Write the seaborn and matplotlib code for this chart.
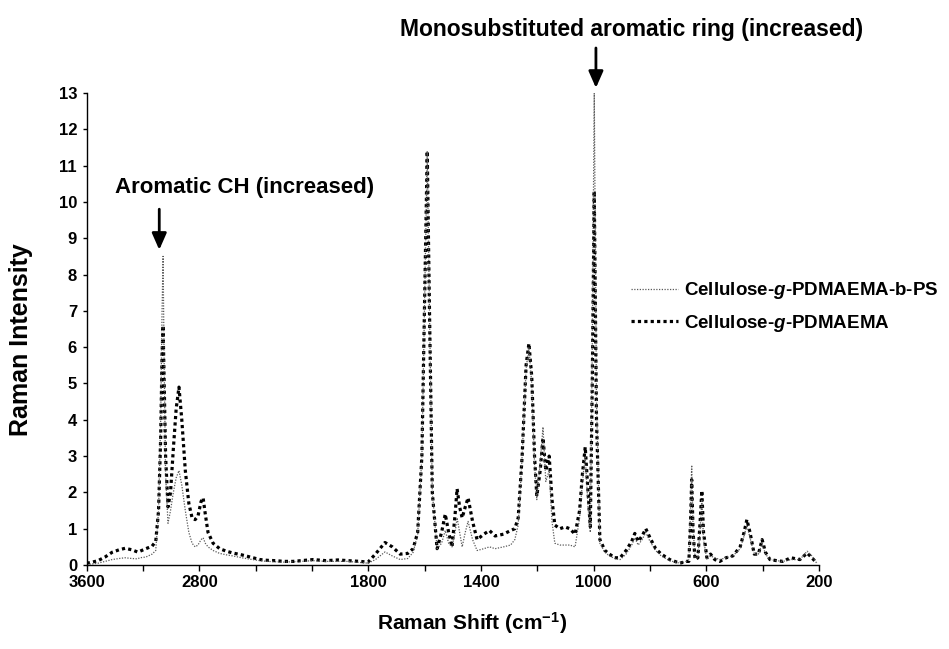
import numpy as np
import pandas as pd
import matplotlib
matplotlib.use("Agg")
import matplotlib.pyplot as plt
import seaborn as sns

# --- data (wavenumber in cm-1, intensity) ---
wavenumber = [3600, 3560, 3520, 3470, 3420, 3370, 3328, 3280, 3240, 3222,
              3180, 3136, 3110, 3090, 3075, 3065, 3058, 3050, 3040, 3023,
              3005, 2985, 2965, 2945, 2925, 2900, 2875, 2852, 2830, 2810,
              2790, 2778, 2765, 2749, 2719, 2680, 2640, 2601, 2550, 2500,
              2441, 2400, 2350, 2300, 2246, 2200, 2127, 2050, 1980, 1920,
              1849, 1802, 1775, 1741, 1715, 1687, 1660, 1641, 1625, 1610,
              1600, 1591, 1583, 1573, 1556, 1540, 1527, 1515, 1503, 1492,
              1485, 1476, 1467, 1456, 1446, 1430, 1414, 1390, 1370, 1350,
              1320, 1295, 1280, 1268, 1254, 1240, 1230, 1220, 1210, 1202,
              1190, 1180, 1170, 1158, 1148, 1138, 1120, 1102, 1085, 1066,
              1050, 1040, 1030, 1020, 1012, 1005, 998, 990, 978, 960,
              944, 925, 906, 885, 865, 854, 842, 828, 815, 800,
              780, 760, 730, 694, 672, 662, 656, 652, 647, 640,
              630, 622, 616, 610, 598, 585, 570, 552, 530, 506,
              480, 466, 456, 445, 430, 415, 402, 390, 374, 350,
              328, 300, 268, 242, 225, 208]

# Cellulose-g-PDMAEMA (thick dotted)
pdmaema = [0.05, 0.08, 0.12, 0.22, 0.35, 0.42, 0.46, 0.42, 0.36, 0.38,
           0.45, 0.52, 0.65, 1.5, 3.5, 5.8, 6.6, 5.0, 3.0, 1.6,
           2.0, 3.2, 4.3, 4.9, 4.0, 2.6, 1.7, 1.3, 1.25, 1.35,
           1.75, 1.85, 1.4, 0.9, 0.6, 0.45, 0.38, 0.33, 0.28, 0.22,
           0.15, 0.13, 0.12, 0.10, 0.10, 0.12, 0.15, 0.12, 0.14, 0.12,
           0.10, 0.08, 0.30, 0.62, 0.50, 0.30, 0.32, 0.45, 0.90, 3.0,
           7.5, 11.4, 7.0, 2.0, 0.45, 0.90, 1.40, 0.90, 0.50, 1.40,
           2.10, 1.60, 1.30, 1.60, 1.85, 1.20, 0.70, 0.85, 0.95, 0.80,
           0.85, 0.95, 1.00, 1.30, 3.0, 5.5, 6.1, 5.2, 3.0, 1.9,
           2.6, 3.5, 2.6, 3.0, 1.8, 1.1, 1.0, 1.05, 1.0, 0.85,
           1.5, 2.5, 3.25, 2.0, 1.05, 5.0, 10.3, 4.0, 0.7, 0.4,
           0.3, 0.2, 0.2, 0.4, 0.65, 0.87, 0.65, 0.8, 1.0, 0.75,
           0.45, 0.3, 0.15, 0.05, 0.1, 0.1, 1.2, 2.35, 0.9, 0.15,
           0.2, 1.2, 2.05, 0.9, 0.2, 0.3, 0.15, 0.1, 0.2, 0.25,
           0.5, 0.9, 1.25, 0.9, 0.3, 0.3, 0.7, 0.35, 0.15, 0.12,
           0.1, 0.2, 0.15, 0.33, 0.2, 0.05]

# Cellulose-g-PDMAEMA-b-PS (thin dotted)
pdmaema_ps = [0.02, 0.03, 0.05, 0.10, 0.15, 0.18, 0.20, 0.18, 0.17, 0.20,
              0.22, 0.30, 0.40, 1.5, 4.0, 7.0, 8.5, 5.5, 2.5, 1.15,
              1.5, 2.0, 2.4, 2.6, 2.2, 1.5, 0.9, 0.6, 0.5, 0.55,
              0.7, 0.75, 0.6, 0.5, 0.4, 0.32, 0.28, 0.25, 0.20, 0.16,
              0.12, 0.10, 0.09, 0.08, 0.09, 0.10, 0.12, 0.10, 0.10, 0.10,
              0.07, 0.05, 0.15, 0.36, 0.25, 0.15, 0.18, 0.35, 0.85, 3.0,
              7.5, 11.4, 7.0, 2.0, 0.45, 0.6, 0.95, 0.6, 0.5, 0.9,
              1.3, 0.9, 0.5, 0.9, 1.2, 0.7, 0.4, 0.45, 0.5, 0.45,
              0.5, 0.55, 0.7, 1.1, 3.0, 5.4, 6.0, 5.0, 2.8, 1.8,
              2.8, 3.8, 2.3, 2.6, 1.2, 0.6, 0.55, 0.55, 0.55, 0.5,
              1.3, 2.3, 3.0, 1.6, 0.9, 6.0, 13.0, 4.5, 0.6, 0.35,
              0.25, 0.18, 0.15, 0.3, 0.55, 0.75, 0.55, 0.7, 0.9, 0.65,
              0.4, 0.25, 0.12, 0.05, 0.1, 0.15, 1.5, 2.75, 1.0, 0.2,
              0.2, 1.0, 1.8, 0.7, 0.15, 0.25, 0.2, 0.15, 0.2, 0.25,
              0.45, 0.8, 1.1, 0.75, 0.3, 0.3, 0.6, 0.3, 0.15, 0.12,
              0.1, 0.15, 0.15, 0.38, 0.25, 0.05]

series_names = ["Cellulose-$g$-PDMAEMA-b-PS", "Cellulose-$g$-PDMAEMA"]
major_ticks = [3600, 2800, 1800, 1400, 1000, 600, 200]
minor_ticks = [3200, 2467, 2133, 1600, 1200, 800, 400]
tick_pos = [0, 2, 5, 7, 9, 11, 13]

assert len(wavenumber) == len(pdmaema) == len(pdmaema_ps)

df = pd.DataFrame({
    "wavenumber": wavenumber * 2,
    "intensity": pdmaema_ps + pdmaema,
    "series": [series_names[0]] * len(wavenumber) + [series_names[1]] * len(wavenumber),
})

sns.set_style("ticks")
plt.rcParams["font.family"] = ["Liberation Sans", "DejaVu Sans"]
plt.rcParams["font.weight"] = "bold"
plt.rcParams["text.color"] = "black"
plt.rcParams["axes.labelcolor"] = "black"
plt.rcParams["xtick.color"] = "black"
plt.rcParams["ytick.color"] = "black"
plt.rcParams["mathtext.fontset"] = "custom"
plt.rcParams["mathtext.rm"] = "Liberation Sans:bold"
plt.rcParams["mathtext.bf"] = "Liberation Sans:bold"
plt.rcParams["mathtext.it"] = "Liberation Sans:italic:bold"

fig = plt.figure(figsize=(9.49, 6.49), dpi=100)
ax = fig.add_axes([0.0914, 0.1294, 0.7716, 0.7273])

# broken (Excel-like) wavenumber axis: piecewise linear between labelled ticks
anchor_wn = np.array(major_ticks[::-1], dtype=float)
anchor_pos = -np.array(tick_pos[::-1], dtype=float)


def fwd(x):
    return np.interp(x, anchor_wn, anchor_pos)


def inv(u):
    return np.interp(u, anchor_pos, anchor_wn)


ax.set_xscale("function", functions=(fwd, inv))

sns.lineplot(data=df, x="wavenumber", y="intensity", hue="series", style="series",
             size="series", hue_order=series_names[::-1], style_order=series_names[::-1],
             size_order=series_names[::-1],
             palette={series_names[0]: "#5a5a5a", series_names[1]: "black"},
             sizes={series_names[0]: 0.9, series_names[1]: 2.3},
             dashes={series_names[0]: (1, 1.2), series_names[1]: (1, 1.0)},
             estimator=None, sort=False, legend=False, ax=ax)

ax.set_xlim(3600, 200)
ax.set_ylim(0, 13)
ax.set_xticks(major_ticks)
ax.set_xticklabels([str(t) for t in major_ticks])
ax.set_xticks(minor_ticks, minor=True)
ax.set_yticks(range(0, 14))
ax.tick_params(axis="x", which="both", direction="out", length=4, width=1, pad=3,
               labelsize=12, color="black")
ax.tick_params(axis="y", direction="out", length=3, width=1, pad=4, labelsize=12)
sns.despine(ax=ax)
for s in ["left", "bottom"]:
    ax.spines[s].set_color("black")
    ax.spines[s].set_linewidth(1)

ax.set_xlabel("Raman Shift (cm$^{-1}$)", fontsize=15, fontweight="bold")
ax.set_ylabel("Raman Intensity", fontsize=18, fontweight="bold")
ax.xaxis.set_label_coords(0.526, -0.095)
ax.yaxis.set_label_coords(-0.073, 0.477)

# legend (thin line first)
line_by_label = {}
for ln, name in zip(ax.lines, series_names[::-1]):
    line_by_label[name] = ln
ax.legend(handles=[line_by_label[n] for n in series_names], labels=series_names,
          loc="center left", bbox_to_anchor=(622 / 949, 1 - 307 / 649),
          bbox_transform=fig.transFigure, frameon=False, fontsize=13.5,
          handlelength=2.5, handletextpad=0.3, labelspacing=0.6, borderpad=0)

# annotations with arrows
arrow = dict(arrowstyle="-|>,head_length=0.5,head_width=0.22", color="black",
             lw=2, mutation_scale=20, shrinkA=0, shrinkB=0)
ax.annotate("", xy=(3085, 8.68), xytext=(3085, 9.8), arrowprops=arrow,
            annotation_clip=False)
ax.text(2530, 10.4, "Aromatic CH (increased)", ha="center", va="center",
        fontsize=16, fontweight="bold")
ax.annotate("", xy=(992, 13.14), xytext=(992, 14.24), arrowprops=arrow,
            annotation_clip=False)
ax.text(864, 14.74, "Monosubstituted aromatic ring (increased)", ha="center",
        va="center", fontsize=16.5, fontweight="bold", clip_on=False)

fig.savefig("out.png", dpi=100)
